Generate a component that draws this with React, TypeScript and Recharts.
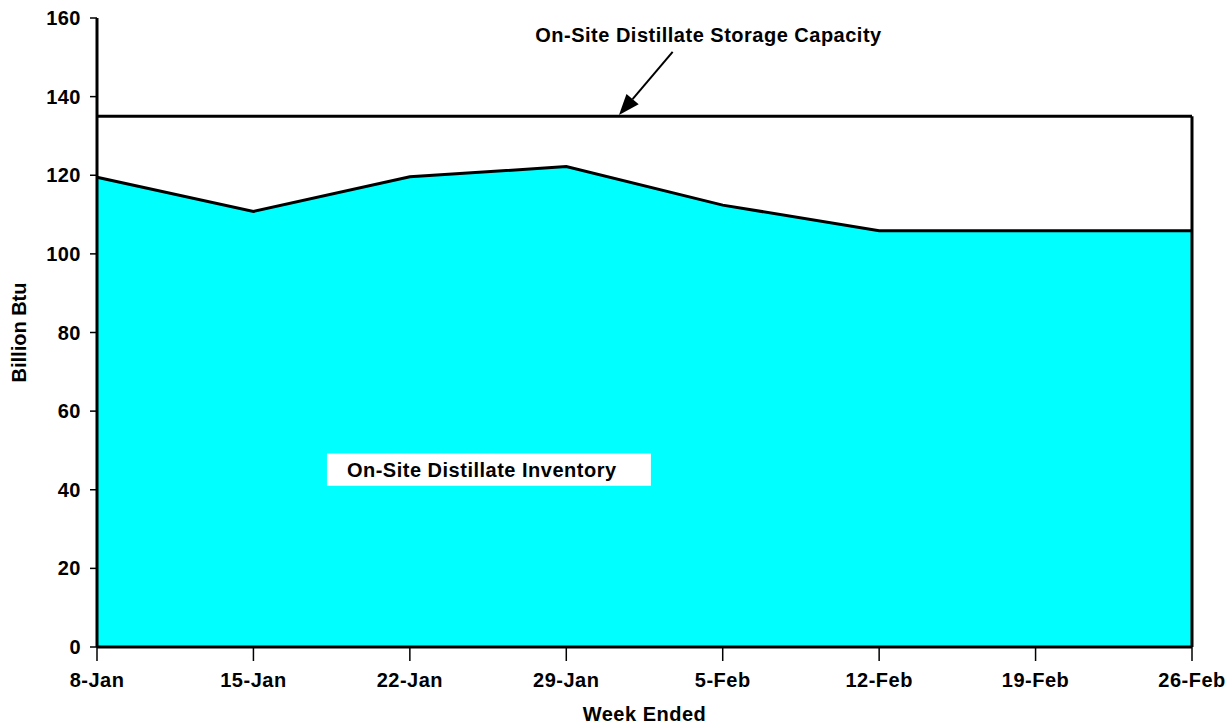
import React from 'react';
import { AreaChart, Area, XAxis, YAxis, ReferenceLine, ReferenceArea, ReferenceDot } from 'recharts';

const weeks = ['8-Jan', '15-Jan', '22-Jan', '29-Jan', '5-Feb', '12-Feb', '19-Feb', '26-Feb'];
const inventory = [119.5, 110.8, 119.6, 122.2, 112.4, 105.9, 105.9, 105.9];
const capacity = [135, 135, 135, 135, 135, 135, 135, 135];
const yTicks = [0, 20, 40, 60, 80, 100, 120, 140, 160];

const data = weeks.map((week, i) => ({ i, week, inventory: inventory[i], capacity: capacity[i] }));
const xTicks = weeks.map((_, i) => i);

const FONT = '"Liberation Sans", Arial, sans-serif';
const textStyle = { fill: '#000', fontSize: 20, fontWeight: 700, fontFamily: FONT, letterSpacing: 0.5 };

// arrow from the capacity label down to the capacity line
const Arrow = (props: any) => {
  const { x1, y1, x2, y2 } = props;
  const ang = Math.atan2(y2 - y1, x2 - x1);
  const len = 21;
  const half = 8;
  const bx = x2 - len * Math.cos(ang);
  const by = y2 - len * Math.sin(ang);
  const px = -Math.sin(ang) * half;
  const py = Math.cos(ang) * half;
  return (
    <g>
      <line x1={x1} y1={y1} x2={bx} y2={by} stroke="#000" strokeWidth={2} />
      <polygon points={`${x2},${y2} ${bx + px},${by + py} ${bx - px},${by - py}`} fill="#000" />
    </g>
  );
};

const YLabel = ({ viewBox }: any) => {
  const x = viewBox.x + 19;
  const y = viewBox.y + viewBox.height / 2;
  return (
    <text x={x} y={y} transform={`rotate(-90, ${x}, ${y})`} textAnchor="middle" dominantBaseline="central"
      fill="#000" fontSize={20} fontWeight={700} fontFamily={FONT}>
      Billion Btu
    </text>
  );
};

export default function App() {
  const last = weeks.length - 1;
  return (
    <div style={{ position: 'absolute', left: 0, top: 0, background: '#fff' }}>
      <AreaChart width={1232} height={725} data={data} margin={{ top: 18, right: 40, bottom: 0, left: 0 }}>
        <XAxis
          dataKey="i"
          type="number"
          domain={[0, last]}
          ticks={xTicks}
          tickFormatter={(v: number) => weeks[v]}
          height={78}
          tickSize={14}
          tickMargin={12}
          tick={textStyle}
          tickLine={{ stroke: '#000', strokeWidth: 1.5 }}
          axisLine={{ stroke: '#000', strokeWidth: 3 }}
          label={{ value: 'Week Ended', position: 'insideBottom', offset: 4, ...textStyle }}
        />
        <YAxis
          domain={[0, 160]}
          ticks={yTicks}
          width={97}
          tickSize={7}
          tickMargin={9}
          tick={textStyle}
          tickLine={{ stroke: '#000', strokeWidth: 1.5 }}
          axisLine={{ stroke: '#000', strokeWidth: 3 }}
          label={<YLabel />}
        />
        <Area
          type="linear"
          dataKey="capacity"
          stroke="#000"
          strokeWidth={3}
          fill="#fff"
          fillOpacity={1}
          isAnimationActive={false}
        />
        <Area
          type="linear"
          dataKey="inventory"
          stroke="#000"
          strokeWidth={3}
          fill="#00ffff"
          fillOpacity={1}
          isAnimationActive={false}
        />
        <ReferenceLine
          segment={[{ x: last, y: 0 }, { x: last, y: capacity[last] }]}
          stroke="#000"
          strokeWidth={3}
        />
        <ReferenceArea
          x1={1.47}
          x2={3.541}
          y1={41}
          y2={49.2}
          fill="#fff"
          fillOpacity={1}
          stroke="none"
          label={{ value: 'On-Site Distillate Inventory', position: 'insideLeft', offset: 20, ...textStyle }}
        />
        <ReferenceDot
          x={3.909}
          y={155.7}
          r={0}
          stroke="none"
          fill="none"
          label={{ value: 'On-Site Distillate Storage Capacity', position: 'center', ...textStyle }}
        />
        <ReferenceLine
          segment={[{ x: 3.68, y: 151.4 }, { x: 3.337, y: 135.3 }]}
          shape={<Arrow />}
        />
      </AreaChart>
    </div>
  );
}
